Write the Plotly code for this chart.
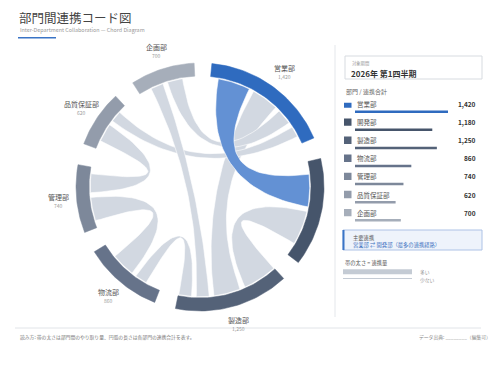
import numpy as np
import plotly.graph_objects as go

# ---------------- data ----------------
departments = ["営業部", "開発部", "製造部", "物流部", "管理部", "品質保証部", "企画部"]
totals = [1420, 1180, 1250, 860, 740, 620, 700]
dept_colors = ["#2f6bbf", "#46556b", "#546278", "#66738a", "#7d889a", "#939cab", "#a6aeba"]

flow_source = ["営業部", "営業部", "営業部", "開発部", "製造部", "物流部", "管理部", "品質保証部", "企画部"]
flow_target = ["開発部", "製造部", "企画部", "製造部", "物流部", "管理部", "品質保証部", "営業部", "製造部"]
flow_values = [380, 320, 180, 400, 150, 280, 220, 130, 150]

# clockwise order of partners inside each department arc
partner_order = {
    "営業部": ["開発部", "製造部", "企画部", "品質保証部"],
    "開発部": ["営業部", "製造部"],
    "製造部": ["開発部", "営業部", "企画部", "物流部"],
    "物流部": ["製造部", "管理部"],
    "管理部": ["物流部", "品質保証部"],
    "品質保証部": ["管理部", "営業部"],
    "企画部": ["製造部", "営業部"],
}

period_label = "2026年 第1四半期"
main_link = "営業部 ⇄ 開発部（最多の連携経路）"

FONT = "Noto Sans CJK JP"
W, H = 500, 375

def pxx(x):
    return x / W

def pxy(y):
    return 1 - y / H

# ---------------- chord geometry ----------------
deg_per_unit = 0.0431
gap = 10.0
start0 = 5.5
r_out, r_in, r_rib = 1.0, 0.895, 0.885
rib_scale = 0.045
rib_pad = 2.5

def pol(r, a):
    t = np.deg2rad(a)
    return r * np.sin(t), r * np.cos(t)

arc_ranges = {}
a = start0
for d, t in zip(departments, totals):
    span = t * deg_per_unit
    arc_ranges[d] = (a, a + span)
    a += span + gap

flows = {}
for s, tg, v in zip(flow_source, flow_target, flow_values):
    flows[frozenset((s, tg))] = v

slots = {}
for d in departments:
    s, e = arc_ranges[d]
    partners = partner_order[d]
    widths = [flows[frozenset((d, p))] * rib_scale for p in partners]
    used = sum(widths) + rib_pad * (len(partners) - 1)
    cur = s + (e - s - used) / 2
    for p, w in zip(partners, widths):
        slots[(d, p)] = (cur, cur + w)
        cur += w + rib_pad

fig = go.Figure()

def arc_pts(r, a0, a1, n=40):
    ang = np.linspace(a0, a1, n)
    xs, ys = pol(r, ang)
    return list(xs), list(ys)

def bez(p0, p2, n=40):
    t = np.linspace(0, 1, n)
    xs = (1 - t) ** 2 * p0[0] + t ** 2 * p2[0]
    ys = (1 - t) ** 2 * p0[1] + t ** 2 * p2[1]
    return list(xs), list(ys)

ribbon_order = sorted(range(len(flow_values)),
                      key=lambda i: 1 if {flow_source[i], flow_target[i]} == {"営業部", "開発部"} else 0)
for i in ribbon_order:
    s, tg, v = flow_source[i], flow_target[i], flow_values[i]
    a0, a1 = slots[(s, tg)]
    b0, b1 = slots[(tg, s)]
    X, Y = [], []
    x, y = arc_pts(r_rib, a0, a1); X += x; Y += y
    x, y = bez(pol(r_rib, a1), pol(r_rib, b0)); X += x; Y += y
    x, y = arc_pts(r_rib, b0, b1); X += x; Y += y
    x, y = bez(pol(r_rib, b1), pol(r_rib, a0)); X += x; Y += y
    main = {s, tg} == {"営業部", "開発部"}
    fig.add_trace(go.Scatter(
        x=X, y=Y, mode="lines", fill="toself",
        fillcolor="#6391d4" if main else "#d2d8e1",
        line=dict(color="white", width=0.6),
        hoverinfo="skip", showlegend=False, xaxis="x", yaxis="y"))

for d, c, t in zip(departments, dept_colors, totals):
    s, e = arc_ranges[d]
    xo, yo = arc_pts(r_out, s, e)
    xi, yi = arc_pts(r_in, e, s)
    fig.add_trace(go.Scatter(
        x=xo + xi + [xo[0]], y=yo + yi + [yo[0]], mode="lines", fill="toself",
        fillcolor=c, line=dict(color=c, width=0.5),
        hoverinfo="skip", showlegend=False, xaxis="x", yaxis="y"))
    mid = (s + e) / 2
    lx, ly = pol(1.15, mid)
    fig.add_annotation(x=lx, y=ly, xref="x", yref="y", text=d, showarrow=False,
                       yshift=4, font=dict(family=FONT, size=7, color="#555555"))
    fig.add_annotation(x=lx, y=ly, xref="x", yref="y", text=f"{t:,}", showarrow=False,
                       yshift=-4.5, font=dict(family=FONT, size=5, color="#999999"))

# ---------------- legend bars ----------------
rows = list(range(len(departments)))
fig.add_trace(go.Bar(
    x=totals, y=rows, orientation="h", width=0.14,
    marker=dict(color=dept_colors, line=dict(width=0)),
    hoverinfo="skip", showlegend=False, xaxis="x2", yaxis="y2"))

for k, (d, c, t) in enumerate(zip(departments, dept_colors, totals)):
    yc = k - 0.425
    fig.add_shape(type="rect", xref="paper", yref="y2",
                  x0=pxx(344), x1=pxx(351.5), y0=yc - 0.205, y1=yc + 0.205,
                  fillcolor=c, line=dict(width=0))
    fig.add_annotation(x=pxx(355), y=yc, xref="paper", yref="y2", text=d,
                       showarrow=False, xanchor="left",
                       font=dict(family=FONT, size=6.5, color="#555555"))
    fig.add_annotation(x=pxx(478), y=yc, xref="paper", yref="y2", text=f"<b>{t:,}</b>",
                       showarrow=False, xanchor="right",
                       font=dict(family=FONT, size=6.5, color="#333333"))

# ---------------- static layout texts / shapes ----------------
def txt(x, y, s, size, color, anchor="left", bold=False):
    fig.add_annotation(x=pxx(x), y=pxy(y), xref="paper", yref="paper",
                       text=f"<b>{s}</b>" if bold else s, showarrow=False,
                       xanchor=anchor, yanchor="middle",
                       font=dict(family=FONT, size=size, color=color))

txt(17, 17, "部門間連携コード図", 12.5, "#444444")
txt(18, 30, "Inter-Department Collaboration — Chord Diagram", 5.4, "#999999")
fig.add_shape(type="line", xref="paper", yref="paper", x0=pxx(18), x1=pxx(56),
              y0=pxy(37.8), y1=pxy(37.8), line=dict(color="#3a74c6", width=1.6))

fig.add_shape(type="line", xref="paper", yref="paper", x0=pxx(335), x1=pxx(335),
              y0=pxy(45), y1=pxy(317), line=dict(color="#e4e7eb", width=1))
fig.add_shape(type="line", xref="paper", yref="paper", x0=pxx(15), x1=pxx(481),
              y0=pxy(328), y1=pxy(328), line=dict(color="#e1e4e8", width=1))

fig.add_shape(type="rect", xref="paper", yref="paper", x0=pxx(345), x1=pxx(482),
              y0=pxy(79), y1=pxy(56), line=dict(color="#d7dbe0", width=1), fillcolor="white")
txt(350, 63.5, "対象期間", 4.3, "#999999")
txt(349, 73, period_label, 8, "#333333", bold=True)
txt(344, 92, "部門 / 連携合計", 6, "#666666")

fig.add_shape(type="rect", xref="paper", yref="paper", x0=pxx(343), x1=pxx(482),
              y0=pxy(250), y1=pxy(230), line=dict(color="#adc2e6", width=1), fillcolor="#eef3fb")
fig.add_shape(type="line", xref="paper", yref="paper", x0=pxx(343.5), x1=pxx(343.5),
              y0=pxy(250), y1=pxy(230), line=dict(color="#3a74c6", width=2))
txt(351, 237.5, "主要連携", 5.3, "#555555")
txt(351, 244.5, main_link, 5.3, "#3a6fc0")

txt(343, 263, "帯の太さ = 連携量", 5.3, "#555555")
fig.add_shape(type="rect", xref="paper", yref="paper", x0=pxx(343), x1=pxx(412),
              y0=pxy(274.3), y1=pxy(269.3), line=dict(width=0), fillcolor="#c4cbd4")
fig.add_shape(type="line", xref="paper", yref="paper", x0=pxx(343), x1=pxx(412),
              y0=pxy(278.5), y1=pxy(278.5), line=dict(color="#c4cbd4", width=1))
txt(418, 271.5, "多い", 4.8, "#999999")
txt(418, 279.5, "少ない", 4.8, "#999999")

txt(18, 337, "読み方: 帯の太さは部門間のやり取り量、円弧の長さは各部門の連携合計を表す。", 4.8, "#777777")
txt(493, 337, "データ出典: ________（編集可）", 4.8, "#888888", anchor="right")

unit = 124.0
cx, cy = 200.0, 187.0
fig.update_layout(
    width=W, height=H, autosize=False,
    margin=dict(l=0, r=0, t=0, b=0),
    paper_bgcolor="white", plot_bgcolor="rgba(0,0,0,0)",
    showlegend=False,
    xaxis=dict(domain=[0, 335 / W], range=[-cx / unit, (335 - cx) / unit],
               visible=False, fixedrange=True),
    yaxis=dict(domain=[0, 1], range=[-(H - cy) / unit, cy / unit],
               visible=False, fixedrange=True),
    xaxis2=dict(domain=[pxx(355), pxx(355 + 93)], range=[0, max(totals)],
                anchor="y2", visible=False, fixedrange=True),
    yaxis2=dict(domain=[pxy(229.35), pxy(102.65)], range=[6.5, -0.5],
                anchor="x2", visible=False, fixedrange=True),
)

fig.write_html("out.html")
